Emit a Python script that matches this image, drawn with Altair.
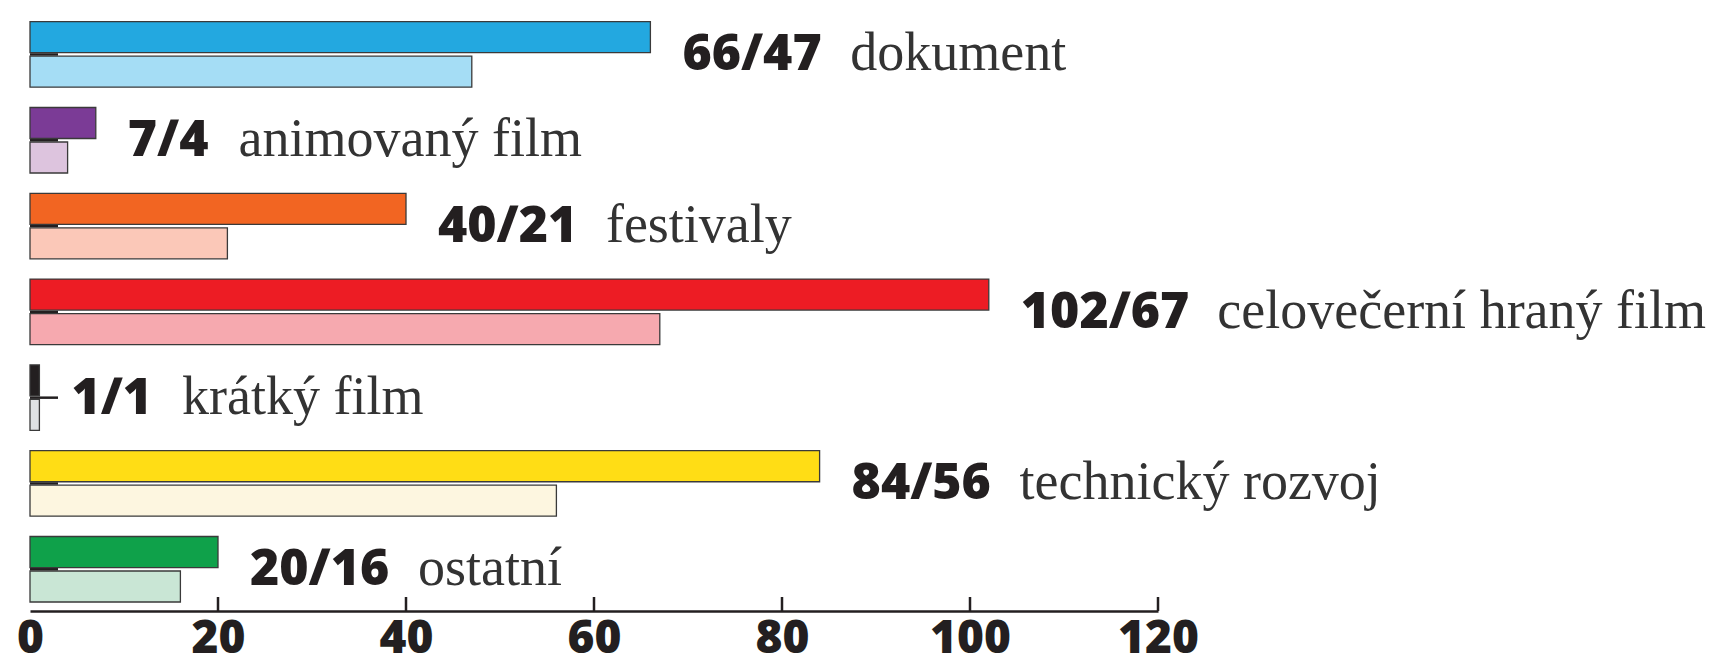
import altair as alt
import pandas as pd

categories = ["dokument", "animovaný film", "festivaly", "celovečerní hraný film",
              "krátký film", "technický rozvoj", "ostatní"]
first_values = [66, 7, 40, 102, 1, 84, 20]
second_values = [47, 4, 21, 67, 1, 56, 16]
dark_colors = ["#23A8E0", "#7B3B96", "#F26522", "#ED1C24", "#231F20", "#FFDD15", "#0FA14A"]
light_colors = ["#A5DDF5", "#DDC4DE", "#FBC8B8", "#F6A9AF", "#DFE1E3", "#FDF6E0", "#C9E6D5"]
x_ticks = [20, 40, 60, 80, 100, 120]

W = 1128
H = 591
XMAX = 120
PX_PER_UNIT = W / XMAX
INK = "#231F20"
NUM_SIZE = 50

rows = []
for c, a, b, ca, cb in zip(categories, first_values, second_values, dark_colors, light_colors):
    rows.append({"cat": c, "series": "a", "value": a, "color": ca})
    rows.append({"cat": c, "series": "b", "value": b, "color": cb})
long_df = pd.DataFrame(rows)

wide_df = pd.DataFrame({
    "cat": categories,
    "first": first_values,
    "second": second_values,
})
wide_df["label"] = [f"{a}/{b}" for a, b in zip(first_values, second_values)]

tick_df = pd.DataFrame({"t": x_ticks})

y_scale = alt.Scale(domain=categories, paddingInner=0.2366, paddingOuter=0.0623, align=0.16)
x_scale = alt.Scale(domain=[0, XMAX], nice=False)

y_enc = alt.Y("cat:N", scale=y_scale, sort=categories,
              axis=alt.Axis(title=None, labels=False, ticks=False, domain=True,
                            domainColor=INK, domainWidth=2.5))
y_enc_plain = alt.Y("cat:N", scale=y_scale, sort=categories, axis=None)

ytick = alt.Chart(wide_df).mark_rule(color=INK, strokeWidth=2.5).encode(
    y=y_enc_plain, x=alt.value(0), x2=alt.value(28)
)

bars = alt.Chart(long_df).mark_bar(stroke="#3A3A3A", strokeWidth=1.3).encode(
    y=y_enc,
    yOffset=alt.YOffset("series:N", scale=alt.Scale(paddingInner=0.101, paddingOuter=0)),
    x=alt.X("value:Q", scale=x_scale,
            axis=alt.Axis(title=None, values=[0] + x_ticks, ticks=False, grid=False,
                          domain=True, domainColor=INK, domainWidth=2.5,
                          labelFont="Open Sans", labelFontWeight=800, labelFontSize=46,
                          labelColor=INK, labelPadding=5, labelFlush=False)),
    color=alt.Color("color:N", scale=None),
)

xtick = alt.Chart(tick_df).mark_rule(color=INK, strokeWidth=2.5).encode(
    x=alt.X("t:Q", scale=x_scale),
    y=alt.value(H - 14), y2=alt.value(H),
)

nums = alt.Chart(wide_df).mark_text(
    align="left", baseline="middle", dx=32, dy=1,
    font="Open Sans", fontWeight=800, fontSize=NUM_SIZE, color=INK
).encode(
    x=alt.X("first:Q", scale=x_scale),
    y=y_enc_plain,
    text="label:N",
)

names = alt.Chart(wide_df).transform_calculate(
    namex=f"datum.first + (32 + (length(datum.label) - 1) * {0.572 * NUM_SIZE} + {0.37 * NUM_SIZE} + 35) / {PX_PER_UNIT}"
).mark_text(
    align="left", baseline="middle", dy=0,
    font="Liberation Serif", fontWeight=300, fontSize=54, color="#333333"
).encode(
    x=alt.X("namex:Q", scale=x_scale),
    y=y_enc_plain,
    text="cat:N",
)

chart = alt.layer(ytick, bars, xtick, nums, names).properties(
    width=W, height=H,
    autosize=alt.AutoSizeParams(type="none"),
    padding={"left": 22, "top": 12, "right": 556, "bottom": 53},
).configure_view(stroke=None)

chart.save("out.html", embed_options={"renderer": "svg", "actions": False})
